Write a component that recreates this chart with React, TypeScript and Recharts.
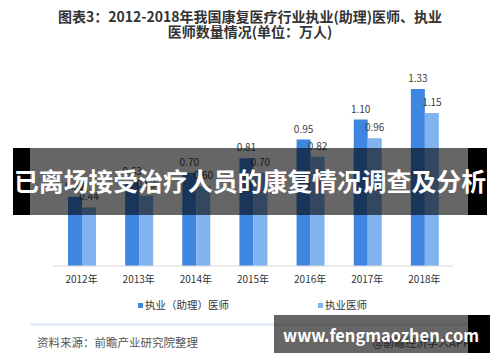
import { Bar, BarChart, LabelList, XAxis, YAxis } from 'recharts'

// 2012-2018 康复医疗行业执业(助理)医师、执业医师数量 (万人)
const years = ['2012年', '2013年', '2014年', '2015年', '2016年', '2017年', '2018年']
const assistantDoctors = [0.52, 0.63, 0.7, 0.81, 0.95, 1.1, 1.33]
const licensedDoctors = [0.44, 0.53, 0.6, 0.7, 0.82, 0.96, 1.15]
const seriesNames = ['执业（助理）医师', '执业医师']

const DARK = '#3f86e0'
const LIGHT = '#80b3ef'
const FONT = '"Noto Sans CJK SC", "Noto Sans", sans-serif'

const rows = years.map((year, i) => ({
  year,
  assistant: assistantDoctors[i],
  licensed: licensedDoctors[i],
}))

export default function App() {
  return (
    <div style={{ position: 'absolute', left: 0, top: 0, width: 500, height: 362, background: '#fff', fontFamily: FONT }}>
      <BarChart
        width={500}
        height={362}
        data={rows}
        margin={{ top: 53, right: 47, left: 53, bottom: 66 }}
        barSize={14}
        barGap={0}
      >
        <XAxis
          dataKey="year"
          height={30}
          tickLine={false}
          tickSize={0}
          tickMargin={10}
          axisLine={{ stroke: '#d9d9d9' }}
          tick={{ fontSize: 10, fill: '#333', fontFamily: FONT }}
        />
        <YAxis hide domain={[0, 1.6]} />
        <Bar dataKey="assistant" fill={DARK} isAnimationActive={false}>
          <LabelList dataKey="assistant" position="top" offset={7} formatter={(v: number) => v.toFixed(2)} style={{ fontSize: 10, fill: '#404040', fontFamily: FONT }} />
        </Bar>
        <Bar dataKey="licensed" fill={LIGHT} isAnimationActive={false}>
          <LabelList dataKey="licensed" position="top" offset={7} formatter={(v: number) => v.toFixed(2)} style={{ fontSize: 10, fill: '#404040', fontFamily: FONT }} />
        </Bar>
      </BarChart>

      <svg width={500} height={362} style={{ position: 'absolute', left: 0, top: 0, pointerEvents: 'none' }}>
        {/* title */}
        <text x={250} y={22} textAnchor="middle" fontSize={14} fontWeight="bold" fill="#333" fontFamily={FONT}>
          图表3：2012-2018年我国康复医疗行业执业(助理)医师、执业
        </text>
        <text x={250} y={37} textAnchor="middle" fontSize={14} fontWeight="bold" fill="#333" fontFamily={FONT}>
          医师数量情况(单位：万人)
        </text>

        {/* legend */}
        <rect x={138} y={303} width={5} height={5} fill={DARK} />
        <text x={145} y={309} fontSize={10.5} fill="#333" fontFamily={FONT}>{seriesNames[0]}</text>
        <rect x={318} y={303} width={5} height={5} fill={LIGHT} />
        <text x={325} y={309} fontSize={10.5} fill="#333" fontFamily={FONT}>{seriesNames[1]}</text>

        {/* footer */}
        <rect x={30} y={323} width={440} height={3} fill="#e6edf6" />
        <text x={37} y={347} fontSize={11.5} fill="#555" fontFamily={FONT}>资料来源：前瞻产业研究院整理</text>
        <text x={470} y={347} textAnchor="end" fontSize={11} fill="#555" fontFamily={FONT}>@前瞻经济学人APP</text>

        {/* banner overlay */}
        <rect x={13} y={148} width={17} height={67} fill="#000" />
        <rect x={30} y={148} width={438} height={67} fill="rgba(0,0,0,0.6)" />
        <rect x={468} y={148} width={19} height={67} fill="#000" />
        <text x={250} y={191} textAnchor="middle" fontSize={25} fontWeight="bold" fill="#fff" fontFamily={FONT} textLength={472} lengthAdjust="spacingAndGlyphs">
          已离场接受治疗人员的康复情况调查及分析
        </text>

        {/* site watermark */}
        <rect x={274} y={315} width={194} height={38} fill="rgba(0,0,0,0.6)" />
        <rect x={468} y={315} width={22} height={38} fill="#000" />
        <text x={283} y={342} fontSize={17} fontWeight="bold" fill="#fff" fontFamily={FONT} textLength={196} lengthAdjust="spacingAndGlyphs">
          www.fengmaozhen.com
        </text>
      </svg>
    </div>
  )
}
